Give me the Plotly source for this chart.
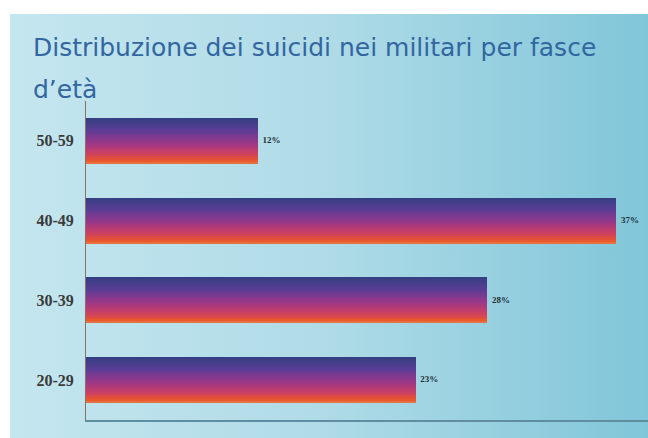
import plotly.graph_objects as go
from plotly.colors import sample_colorscale

categories = ["20-29", "30-39", "40-49", "50-59"]
values = [23, 28, 37, 12]
labels = ["23%", "28%", "37%", "12%"]

title_line1 = "Distribuzione dei suicidi nei militari per fasce"
title_line2 = "d’età"

W, H = 648, 438
PL, PB, PT = 86, 18, 101   # plot area edges in px
bar_width = 0.575
n_bands = 24
bar_scale = [[0.0, "#363f82"], [0.25, "#5a3d96"], [0.55, "#9c3787"],
             [0.8, "#cf4060"], [0.95, "#e8552a"], [1.0, "#e87040"]]

fig = go.Figure()

# background panel (decorative) on full-paper axes x/y
fig.add_trace(go.Scatter(
    x=[10 / W, 1, 1, 10 / W, 10 / W], y=[0, 0, (H - 14) / H, (H - 14) / H, 0],
    xaxis="x", yaxis="y", mode="lines", line=dict(width=0),
    fill="toself",
    fillgradient=dict(type="horizontal",
                      colorscale=[[0, "#c4e6ef"], [0.5, "#afdbe7"], [1, "#80c6d9"]]),
    hoverinfo="skip", showlegend=False))

# bars drawn as stacked colour bands for a vertical gradient
band_w = bar_width / n_bands
colors = sample_colorscale(bar_scale, [1 - i / (n_bands - 1) for i in range(n_bands)])
for i in range(n_bands):
    fig.add_trace(go.Bar(
        x=values, y=categories, orientation="h",
        width=band_w * 1.05, offset=-bar_width / 2 + i * band_w,
        marker=dict(color=colors[i], line=dict(width=0)),
        xaxis="x2", yaxis="y2", showlegend=False, hoverinfo="skip"))

fig.add_trace(go.Scatter(
    x=values, y=categories, mode="text", text=["\u2002" + t for t in labels],
    textposition="middle right",
    textfont=dict(family="Liberation Serif", size=9, color="#1f3038", weight="bold"),
    xaxis="x2", yaxis="y2",
    cliponaxis=False, showlegend=False, hoverinfo="skip"))

fig.update_layout(
    width=W, height=H,
    margin=dict(l=0, r=0, t=0, b=0),
    paper_bgcolor="white", plot_bgcolor="rgba(0,0,0,0)",
    barmode="overlay", bargap=0,
    xaxis=dict(domain=[0, 1], range=[0, 1], visible=False, fixedrange=True, anchor="y"),
    yaxis=dict(domain=[0, 1], range=[0, 1], visible=False, fixedrange=True, anchor="x"),
    xaxis2=dict(domain=[PL / W, 1], anchor="y2", range=[0, 39.2], showgrid=False,
                zeroline=False, showticklabels=False, ticks="", showline=True,
                linecolor="#5e8ea0", linewidth=1.5),
    yaxis2=dict(domain=[PB / H, (H - PT) / H], anchor="x2",
                categoryorder="array", categoryarray=categories, range=[-0.5, 3.5],
                showgrid=False, zeroline=False, showline=True, linecolor="#8a6e66",
                linewidth=1, ticks="", ticklabelstandoff=8,
                tickfont=dict(family="Liberation Serif", size=16, color="#3a3a3a",
                              weight="bold")),
)

for text, py in [(title_line1, 47), (title_line2, 90)]:
    fig.add_annotation(text=text, xref="paper", yref="paper", x=31 / W, y=1 - py / H,
                       xanchor="left", yanchor="middle", showarrow=False,
                       font=dict(family="DejaVu Sans", size=25, color="#3366a0"))

fig.write_html("out.html")
